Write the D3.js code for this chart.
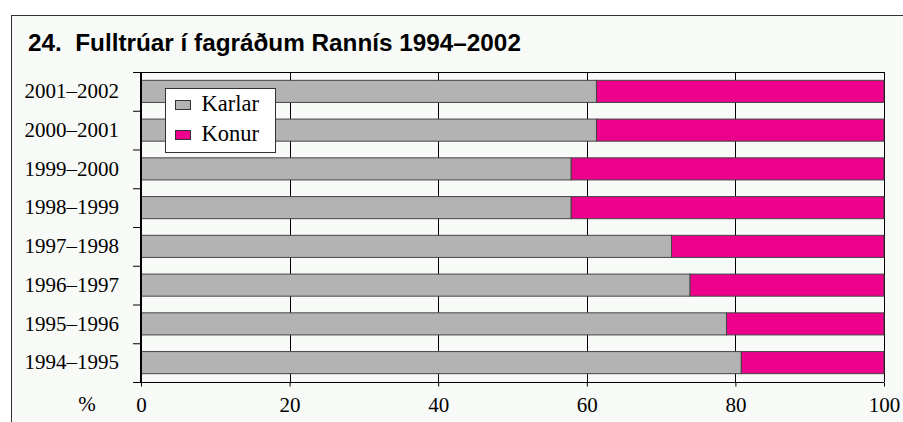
<!DOCTYPE html>
<meta charset="utf-8">
<style>
body { margin: 0; background: #fff; }
.title { font: bold 24.3px "Liberation Sans", Arial, sans-serif; fill: #000; }
.ylab text, .xaxis text, .pct { font: 21px "Liberation Serif", "Times New Roman", serif; fill: #000; }
.legend text { font: 22.5px "Liberation Serif", serif; fill: #000; }
</style>
<svg id="chart" width="903" height="422"></svg>
<script src="https://d3js.org/d3.v7.min.js"></script>
<script>

var periods = ["2001–2002", "2000–2001", "1999–2000", "1998–1999",
               "1997–1998", "1996–1997", "1995–1996", "1994–1995"];
var karlar = [61.3, 61.3, 57.9, 57.9, 71.4, 73.9, 78.8, 80.8];
var konur  = [38.7, 38.7, 42.1, 42.1, 28.6, 26.1, 21.2, 19.2];
var xTicks = [0, 20, 40, 60, 80, 100];
var seriesNames = ["Karlar", "Konur"];
var colors = ["#b3b3b3", "#ec008c"];

var svg = d3.select("svg"),
    margin = {top: 72, left: 141, right: 19, bottom: 40},
    width = 903 - margin.left - margin.right,
    height = 422 - margin.top - margin.bottom;

// frame
svg.append("rect")
    .attr("x", 11.5).attr("y", 15.5)
    .attr("width", 1000).attr("height", 600)
    .attr("fill", "#f8faf7")
    .attr("stroke", "#333");

svg.append("text")
    .attr("class", "title")
    .attr("x", 28).attr("y", 51)
    .text("24.\u00a0\u00a0Fulltrúar í fagráðum Rannís 1994–2002");

var x = d3.scaleLinear().domain([0, 100]).range([0, width]);
var y = d3.scaleBand().domain(periods).range([0, height]).paddingInner(0.43).paddingOuter(0.215);
var yb = d3.scaleLinear().domain([0, periods.length]).range([0, height]);

var g = svg.append("g")
    .attr("transform", "translate(" + margin.left + "," + margin.top + ")");

// vertical grid
g.append("g")
    .selectAll("line")
    .data(xTicks.slice(1))
    .enter().append("line")
    .attr("x1", function(d) { return Math.round(x(d)) + 0.5; })
    .attr("x2", function(d) { return Math.round(x(d)) + 0.5; })
    .attr("y1", 0).attr("y2", height)
    .attr("stroke", "#000");

// top line
g.append("line")
    .attr("x1", -8).attr("x2", width)
    .attr("y1", 0.5).attr("y2", 0.5)
    .attr("stroke", "#000");

var data = periods.map(function(p, i) { return {period: p, Karlar: karlar[i], Konur: konur[i]}; });
var stack = d3.stack().keys(seriesNames)(data);

g.selectAll(".series")
    .data(stack)
    .enter().append("g")
    .attr("fill", function(d, i) { return colors[i]; })
    .selectAll("rect")
    .data(function(d) { return d; })
    .enter().append("rect")
    .attr("x", function(d) { return x(d[0]); })
    .attr("width", function(d) { return x(d[1]) - x(d[0]); })
    .attr("y", function(d) { return y(d.data.period); })
    .attr("height", y.bandwidth())
    .attr("stroke", "#444")
    .attr("stroke-width", 1);

// x axis
var xa = g.append("g")
    .attr("class", "xaxis")
    .attr("transform", "translate(0," + (height + 0.5) + ")")
    .call(d3.axisBottom(x).tickValues(xTicks).tickSize(4).tickPadding(11));
xa.select(".domain").remove();
xa.selectAll("line").attr("stroke", "#000");
xa.append("line")
    .attr("x1", -8).attr("x2", width)
    .attr("stroke", "#000");

g.append("text")
    .attr("class", "pct")
    .attr("x", -54).attr("y", height + 29)
    .attr("text-anchor", "middle")
    .text("%");

// y band ticks
var yt = g.append("g")
    .call(d3.axisLeft(yb).ticks(8).tickSize(8).tickFormat(""));
yt.select(".domain").remove();
yt.selectAll("line").attr("stroke", "#000");

g.append("line")
    .attr("x1", 0).attr("x2", 0)
    .attr("y1", 0).attr("y2", height)
    .attr("stroke", "#000").attr("stroke-width", 2);

// y labels
var yl = g.append("g")
    .attr("class", "ylab")
    .call(d3.axisLeft(y).tickSize(0).tickPadding(22));
yl.select(".domain").remove();

// legend
var legend = svg.append("g").attr("class", "legend")
    .attr("transform", "translate(165.5,88.5)");
legend.append("rect")
    .attr("width", 110).attr("height", 64)
    .attr("fill", "#fff").attr("stroke", "#333");
var li = legend.selectAll(".item")
    .data(seriesNames)
    .enter().append("g")
    .attr("transform", function(d, i) { return "translate(10," + (12 + i * 30) + ")"; });
li.append("rect")
    .attr("width", 15).attr("height", 9)
    .attr("fill", function(d, i) { return colors[i]; })
    .attr("stroke", "#333");
li.append("text")
    .attr("x", 26).attr("y", 10)
    .text(function(d) { return d; });

</script>
